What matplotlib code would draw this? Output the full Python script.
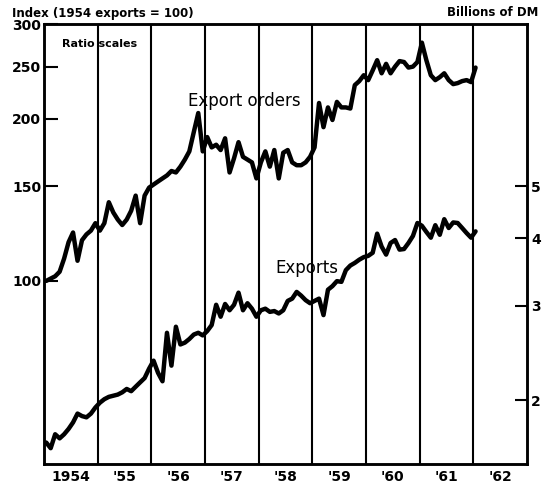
import numpy as np
import matplotlib
matplotlib.use("Agg")
import matplotlib.pyplot as plt
from matplotlib.ticker import FixedLocator, NullLocator, NullFormatter

# Monthly data, Jan 1954 .. Jan 1962
start_year = 1954
export_orders = [100, 101, 102, 104, 110, 118, 123, 109, 119, 122, 124, 128,
                 124, 128, 140, 134, 130, 127, 130, 135, 144, 128, 144, 149,
                 151, 153, 155, 157, 160, 159, 163, 168, 174, 189, 205, 174,
                 185, 177, 179, 175, 184, 159, 169, 181, 170, 168, 166, 155,
                 166, 174, 163, 175, 155, 173, 175, 166, 164, 164, 166, 170,
                 177, 214, 193, 210, 199, 215, 210, 210, 209, 231, 235, 241,
                 236, 246, 257, 243, 253, 243, 250, 256, 255, 249, 250, 255,
                 277, 257, 241, 236, 239, 243, 236, 232, 233, 235, 236, 234,
                 249]
exports_bn_dm = [1.67, 1.63, 1.73, 1.70, 1.73, 1.77, 1.82, 1.89, 1.87, 1.86, 1.89, 1.94,
                 1.98, 2.01, 2.03, 2.04, 2.05, 2.07, 2.10, 2.08, 2.12, 2.16, 2.20, 2.29,
                 2.37, 2.25, 2.17, 2.67, 2.32, 2.74, 2.54, 2.56, 2.60, 2.65, 2.67, 2.64,
                 2.69, 2.76, 3.01, 2.86, 3.02, 2.94, 3.01, 3.17, 2.94, 3.03, 2.96, 2.86,
                 2.94, 2.96, 2.92, 2.93, 2.90, 2.94, 3.06, 3.09, 3.18, 3.13, 3.07, 3.03,
                 3.06, 3.09, 2.88, 3.21, 3.26, 3.33, 3.32, 3.49, 3.56, 3.60, 3.65, 3.69,
                 3.71, 3.76, 4.08, 3.86, 3.73, 3.92, 3.97, 3.81, 3.82, 3.92, 4.04, 4.27,
                 4.22, 4.11, 4.01, 4.23, 4.06, 4.34, 4.18, 4.28, 4.27, 4.18, 4.09, 4.01,
                 4.12]
year_labels = ["1954", "'55", "'56", "'57", "'58", "'59", "'60", "'61", "'62"]
left_ticks = [100, 150, 200, 250, 300]
right_ticks = [2, 3, 4, 5]

plt.rcParams['font.family'] = ['DejaVu Sans']

fig = plt.figure(figsize=(5.49, 4.83), dpi=100)
ax = fig.add_axes([0.0801, 0.0393, 0.8798, 0.911])
ax2 = ax.twinx()

months = np.arange(len(export_orders))
x = start_year + (months + 0.5) / 12.0

ax.set_yscale('log')
ax2.set_yscale('log')
ax.set_ylim(45.7, 300)
ax2.set_ylim(45.7 / 30, 10)
ax.set_xlim(start_year, start_year + len(year_labels))

ax.plot(x, export_orders, color='black', lw=3.2, solid_joinstyle='round', solid_capstyle='round')
ax2.plot(x, exports_bn_dm, color='black', lw=3.2, solid_joinstyle='round', solid_capstyle='round')

for i in range(1, len(year_labels)):
    ax.axvline(start_year + i, color='black', lw=1.5)

for a in (ax, ax2):
    for s in a.spines.values():
        s.set_linewidth(1.8)

ax.yaxis.set_major_locator(FixedLocator(left_ticks))
ax.yaxis.set_minor_locator(NullLocator())
ax.yaxis.set_minor_formatter(NullFormatter())
ax.set_yticklabels([str(t) for t in left_ticks], fontsize=10, fontweight='bold')
ax.tick_params(axis='y', direction='in', length=10, width=1.5, pad=2)

ax2.yaxis.set_major_locator(FixedLocator(right_ticks))
ax2.yaxis.set_minor_locator(NullLocator())
ax2.yaxis.set_minor_formatter(NullFormatter())
ax2.set_yticklabels([str(t) for t in right_ticks], fontsize=10, fontweight='bold')
ax2.tick_params(axis='y', direction='in', length=9, width=1.5, pad=3)

ax.set_xticks([start_year + i + 0.5 for i in range(len(year_labels))])
ax.set_xticklabels(year_labels, fontsize=10, fontweight='bold')
ax.tick_params(axis='x', length=0, pad=4)

fig.text(12 / 549, 1 - 13 / 483, "Index (1954 exports = 100)", fontsize=8.5,
         fontweight='bold', ha='left', va='center')
fig.text(538 / 549, 1 - 13 / 483, "Billions of DM", fontsize=8.5,
         fontweight='bold', ha='right', va='center')
fig.text(62 / 549, 1 - 44 / 483, "Ratio scales", fontsize=8,
         fontweight='bold', ha='left', va='center')
fig.text(244 / 549, 1 - 101 / 483, "Export orders", fontsize=12,
         ha='center', va='center')
fig.text(307 / 549, 1 - 268 / 483, "Exports", fontsize=12,
         ha='center', va='center')

fig.savefig("out.png", dpi=100)
